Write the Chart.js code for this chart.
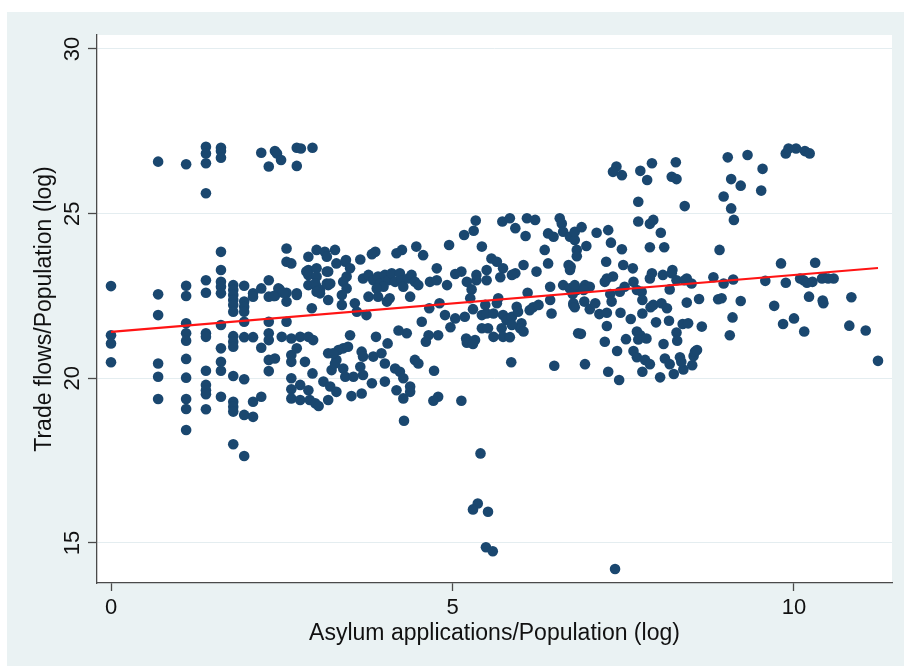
<!DOCTYPE html>
<html>
<head>
<meta charset="utf-8">
<script src="https://cdn.jsdelivr.net/npm/chart.js@4/dist/chart.umd.min.js"></script>
<style>
  html, body { margin: 0; padding: 0; background: #fff; }
  #wrap { width: 904px; height: 666px; }
</style>
</head>
<body>
<div id="wrap"><canvas id="scatter" width="904" height="666"></canvas></div>
<script>
// asylum applications / population (log) and trade flows / population (log)
const asylumLog = [
  0.69,1.10,1.39,1.39,1.39,1.39,1.61,1.61,1.61,2.20,2.40,2.43,2.49,2.31,2.72,2.78,2.72,2.95,
  0,0.69,0.69,1.10,1.10,1.10,1.39,1.39,1.61,1.61,1.61,1.61,1.61,1.61,1.79,1.79,1.79,1.79,1.79,1.79,
  1.95,1.95,1.95,1.95,1.95,2.08,2.08,2.20,2.31,2.31,2.31,2.40,2.45,2.57,2.57,2.57,2.57,2.57,2.64,2.72,
  2.89,2.89,2.89,2.89,3.01,3.01,3.01,3.01,3.06,3.13,3.16,3.18,3.18,3.18,3.28,3.30,2.94,
  2.47,2.52,2.72,2.38,2.86,2.99,3.06,3.16,3.01,3.16,3.43,3.45,
  0,0,0,0.69,0.69,0.69,1.10,1.10,1.10,1.10,1.10,1.10,1.10,1.39,1.39,1.39,1.39,1.39,1.39,1.39,
  1.61,1.61,1.61,1.61,1.79,1.79,1.79,1.79,1.79,1.79,1.79,1.79,1.95,1.95,1.95,1.95,2.08,2.08,2.08,
  2.20,2.20,2.31,2.31,2.31,2.31,2.40,2.50,2.64,2.64,2.64,2.64,2.64,2.64,2.72,2.77,2.77,2.77,2.84,
  2.89,2.89,2.91,2.95,2.99,3.04,2.96,3.11,3.18,3.18,3.21,3.23,3.30,3.30,3.33,
  5.34,5.31,5.17,5.73,5.84,5.92,6.09,6.21,6.07,5.43,4.95,4.47,4.57,4.26,4.18,3.87,3.82,3.65,3.44,3.50,
  6.35,6.40,6.48,6.57,6.60,6.62,6.72,6.79,6.82,6.79,6.40,6.70,6.72,5.57,5.65,5.74,6.04,6.23,5.92,5.50,
  5.35,5.13,5.04,4.77,4.67,4.77,4.92,5.21,5.28,5.35,5.50,5.70,5.87,6.10,6.43,6.62,6.72,6.82,6.43,6.77,
  6.45,6.84,3.69,3.77,3.84,3.91,3.94,4.01,4.06,4.11,4.16,4.23,4.26,4.28,4.35,4.40,4.45,4.50,3.99,3.89,
  3.77,3.91,4.04,4.08,4.38,3.40,3.45,3.38,3.38,3.21,3.57,3.60,3.74,4.66,4.81,5.26,5.30,5.48,5.67,4.89,
  5.04,5.18,4.97,5.43,5.50,5.60,5.65,5.74,5.79,5.87,5.94,5.96,6.01,5.99,6.04,6.13,6.18,6.26,5.43,5.52,
  5.60,5.72,5.74,5.84,5.87,5.20,5.21,5.33,5.30,5.86,6.49,4.55,4.79,4.65,4.61,4.33,4.21,4.05,3.88,3.50,
  3.40,3.47,3.67,3.69,3.84,3.96,4.01,3.65,3.25,3.28,3.40,3.43,3.55,3.69,3.82,4.01,4.16,4.23,4.28,4.18,
  4.38,4.45,4.50,4.73,3.52,3.67,4.79,
  4.28,4.38,4.72,5.13,4.29,5.41,5.37,5.30,5.52,5.49,5.59,7.38,
  7.40,7.35,7.48,7.75,7.92,7.85,8.27,8.21,8.28,7.72,8.40,9.03,9.32,9.54,9.08,9.22,9.52,8.97,9.08,9.12,
  9.88,9.92,10.03,10.16,10.23,7.72,7.89,7.94,8.05,8.10,7.89,7.48,7.32,7.28,7.11,6.96,6.89,6.82,6.73,
  7.25,7.50,7.64,8.91,9.81,10.31,7.35,7.26,7.92,8.08,8.22,8.43,8.82,9.11,10.09,10.43,10.58,
  6.79,6.94,7.01,6.76,6.92,7.23,7.31,7.33,7.45,7.52,7.65,7.70,7.77,7.78,7.89,8.21,8.28,8.40,8.50,8.18,
  8.43,8.61,8.97,8.89,8.94,9.22,9.58,9.88,10.14,10.19,10.27,10.41,10.50,10.22,10.42,10.43,10.84,9.71,
  9.10,9.06,9.84,10.00,10.15,10.81,11.05,11.23,
  6.77,6.79,6.93,7.01,7.09,7.15,7.26,7.26,7.23,7.46,7.61,7.78,7.90,7.94,8.06,8.14,8.17,7.98,8.37,8.45,
  8.65,6.88,6.94,7.28,7.44,7.41,7.54,7.65,7.70,7.75,7.72,7.84,7.70,7.82,7.89,7.78,8.04,8.09,8.11,8.18,
  8.24,8.38,8.28,8.29,8.33,8.35,8.51,8.53,8.55,8.58
];
const tradeLog = [
  26.58,26.50,27.03,26.83,26.53,25.62,27.00,26.90,26.70,26.85,26.90,26.83,26.63,26.43,27.00,26.98,26.45,27.00,
  22.80,22.55,21.92,22.81,22.50,21.67,22.98,22.60,23.84,23.29,22.93,22.78,22.58,21.62,22.83,22.68,22.53,22.38,22.23,22.02,
  22.81,22.33,22.17,22.02,21.72,22.58,22.48,22.73,22.98,22.48,21.72,22.50,22.73,22.60,22.33,21.72,23.94,23.54,23.49,22.58,
  23.69,23.29,23.14,22.83,23.90,23.34,23.09,22.78,22.58,23.84,23.69,23.24,22.83,22.38,23.90,23.49,22.13,
  22.70,22.60,22.53,22.50,23.24,22.88,22.68,22.88,22.63,23.24,23.54,23.09,
  21.31,21.06,20.49,20.45,20.05,19.37,21.37,21.14,20.59,20.02,19.37,19.07,18.43,21.37,21.26,20.23,19.80,19.64,19.52,19.06,
  20.91,20.50,20.23,19.44,21.28,21.11,20.96,20.07,19.29,19.14,18.99,18.00,21.25,19.97,18.89,17.64,21.25,19.29,18.83,
  20.93,19.44,21.37,21.16,20.56,20.22,20.60,21.26,21.21,20.71,20.50,20.00,19.67,19.39,20.91,21.26,19.80,19.34,20.50,
  19.64,21.26,19.34,20.15,19.24,19.16,21.16,19.90,20.76,19.34,19.75,20.25,20.56,19.59,20.86,
  24.79,24.48,24.35,24.76,24.86,24.56,24.86,24.81,24.32,24.00,24.05,24.00,23.74,23.90,23.80,23.84,23.77,23.61,23.59,23.34,
  23.90,24.40,24.30,24.86,24.70,24.45,24.30,24.20,23.90,24.45,23.49,23.44,23.29,23.64,23.54,23.34,23.44,23.24,23.19,23.29,
  23.14,23.24,23.17,23.34,22.93,22.98,22.83,22.93,22.70,22.98,22.98,23.07,23.14,22.60,22.78,22.83,22.73,22.68,22.38,22.23,
  21.97,21.37,23.03,23.14,22.98,23.09,22.88,23.14,22.98,23.19,22.93,23.19,22.98,22.78,23.03,23.14,22.93,22.83,22.78,22.73,
  22.48,22.48,22.33,22.43,22.48,22.93,22.73,22.53,22.23,22.88,22.28,22.02,21.92,22.13,22.28,22.43,22.10,22.23,22.43,21.92,
  21.82,21.87,21.55,21.92,21.97,21.97,22.28,21.92,21.77,21.87,22.17,22.02,21.67,21.52,21.42,22.07,22.16,22.23,21.52,21.52,
  21.26,21.52,21.26,21.25,21.62,21.21,21.08,21.16,21.04,20.49,20.38,21.72,21.31,21.31,21.11,21.37,21.45,21.06,21.26,21.31,
  20.91,20.96,20.81,20.66,20.66,20.76,20.45,20.35,20.76,20.45,20.30,20.05,20.05,20.10,19.85,19.90,20.30,20.20,20.00,19.64,
  19.75,20.56,20.45,20.23,19.46,19.54,19.44,
  19.39,19.59,19.32,19.32,18.71,17.72,16.20,16.02,15.95,14.87,14.75,14.21,
  26.43,26.27,26.17,26.30,26.53,26.02,26.56,26.12,26.05,25.36,25.23,26.71,26.78,26.36,26.05,25.85,25.70,25.52,25.16,24.81,
  26.83,26.98,26.98,26.90,26.83,24.76,24.69,24.81,24.42,23.98,23.98,23.92,24.12,24.50,24.42,24.02,24.59,23.71,23.39,
  23.54,23.44,23.34,23.90,23.49,23.51,23.09,23.03,23.19,23.14,23.29,23.03,23.07,23.00,23.03,23.07,23.03,
  22.83,22.83,22.78,22.56,22.68,22.93,22.56,22.33,22.63,22.78,22.93,22.68,22.63,22.38,23.03,23.19,22.98,22.98,22.88,22.70,
  22.30,22.41,22.88,22.40,22.43,22.35,22.96,22.90,22.98,22.90,22.93,23.03,23.03,22.48,22.36,22.28,22.46,22.20,
  21.85,21.31,21.65,21.82,21.42,21.60,21.45,20.53,
  22.28,22.16,22.33,22.10,22.28,21.95,21.99,21.59,21.11,21.99,21.80,21.97,22.16,22.23,22.28,22.13,21.75,21.70,21.65,21.67,
  21.57,21.35,20.43,20.20,19.95,20.83,21.19,20.83,21.42,21.31,21.18,21.21,20.64,20.56,20.43,20.20,20.03,21.04,20.60,20.43,
  20.13,20.27,21.39,21.14,20.64,20.50,20.40,20.68,20.81,20.86
];

// fitted line end points
const fitX = [0, 11.23];
const fitY = [21.41, 23.35];

const xTicks = [0, 5, 10];
const yTicks = [15, 20, 25, 30];
const xTitle = 'Asylum applications/Population (log)';
const yTitle = 'Trade flows/Population (log)';

const FONT = '"Liberation Sans", Arial, Helvetica, sans-serif';
const INK = '#111111';
const AXIS = '#4a4a4a';

const points = asylumLog.map((x, i) => ({ x: x, y: tradeLog[i] }));
const fitLine = fitX.map((x, i) => ({ x: x, y: fitY[i] }));

const backdrop = {
  id: 'backdrop',
  beforeDraw(chart) {
    const { ctx, chartArea: a } = chart;
    ctx.save();
    ctx.fillStyle = '#ffffff';
    ctx.fillRect(0, 0, chart.width, chart.height);
    ctx.fillStyle = '#eaf2f3';
    ctx.fillRect(7, 12, chart.width - 7, chart.height - 12);
    ctx.fillStyle = '#ffffff';
    ctx.fillRect(a.left, a.top, a.right - a.left, a.bottom - a.top);
    ctx.restore();
  }
};

// y tick labels and title are rotated, Stata style
const yLabels = {
  id: 'yLabels',
  afterDraw(chart) {
    const { ctx, chartArea: a } = chart;
    const ys = chart.scales.y;
    ctx.save();
    ctx.fillStyle = INK;
    ctx.textAlign = 'center';
    ctx.textBaseline = 'middle';
    ctx.font = '22px ' + FONT;
    yTicks.forEach(v => {
      ctx.save();
      ctx.translate(73, ys.getPixelForValue(v));
      ctx.rotate(-Math.PI / 2);
      ctx.fillText(String(v), 0, 0);
      ctx.restore();
    });
    ctx.font = '23px ' + FONT;
    ctx.translate(45, (a.top + a.bottom) / 2);
    ctx.rotate(-Math.PI / 2);
    ctx.fillText(yTitle, 0, 0);
    ctx.restore();
  }
};

new Chart(document.getElementById('scatter'), {
  type: 'scatter',
  data: {
    datasets: [
      {
        label: 'Fitted values',
        data: fitLine,
        showLine: true,
        borderColor: '#ff1414',
        borderWidth: 2.2,
        pointRadius: 0,
        order: 0
      },
      {
        label: 'Trade flows/Population (log)',
        data: points,
        backgroundColor: '#1a476f',
        borderWidth: 0,
        pointRadius: 5.3,
        order: 1
      }
    ]
  },
  options: {
    responsive: false,
    animation: false,
    devicePixelRatio: 1,
    layout: { padding: { top: 35, right: 12, left: 0, bottom: 0 } },
    plugins: {
      legend: { display: false },
      tooltip: { enabled: false }
    },
    scales: {
      x: {
        type: 'linear',
        min: -0.205,
        max: 11.435,
        afterBuildTicks: s => { s.ticks = xTicks.map(v => ({ value: v })); },
        afterFit: s => { s.height = 83; },
        border: { display: true, color: AXIS, width: 1.3 },
        grid: { drawOnChartArea: false, tickColor: AXIS, tickLength: 8, tickWidth: 1.3 },
        ticks: { color: INK, padding: 4, font: { family: FONT, size: 22 } },
        title: {
          display: true,
          text: xTitle,
          color: INK,
          font: { family: FONT, size: 23 },
          padding: { top: 0, bottom: 19 }
        }
      },
      y: {
        type: 'linear',
        min: 13.785,
        max: 30.425,
        afterBuildTicks: s => { s.ticks = yTicks.map(v => ({ value: v })); },
        afterFit: s => { s.width = 97; },
        border: { display: true, color: AXIS, width: 1.3 },
        grid: { color: '#e4edf0', lineWidth: 1, tickColor: AXIS, tickLength: 9, tickWidth: 1.3 },
        ticks: { display: false }
      }
    }
  },
  plugins: [backdrop, yLabels]
});
</script>
</body>
</html>
